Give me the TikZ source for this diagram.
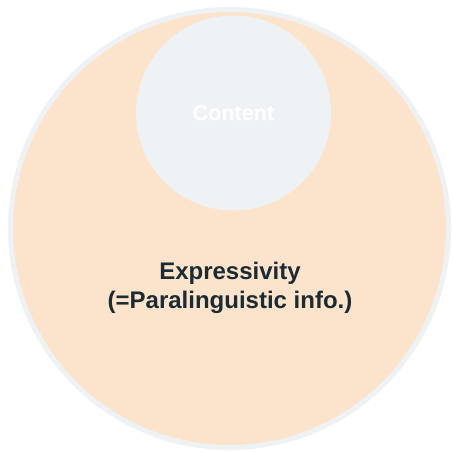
\documentclass[tikz,border=0pt]{standalone}
\usepackage{fontspec}
\setmainfont{Liberation Sans}
\definecolor{peach}{HTML}{FCE4CC}
\definecolor{mist}{HTML}{EEF2F5}
\definecolor{ink}{HTML}{1C2B33}
\begin{document}
\begin{tikzpicture}[x=1pt,y=-1pt,
  outerset/.style={circle,fill=peach,draw=mist,line width=5pt,minimum size=438pt,inner sep=0pt},
  innerset/.style={circle,fill=mist,minimum size=195pt,inner sep=0pt},
  setlabel/.style={font=\bfseries\fontsize{24}{29}\selectfont,align=center,text=ink}]
  \useasboundingbox (0,0) rectangle (452,451);
  \fill[white] (0,0) rectangle (452,451);
  \node[outerset] (expr) at (229.5,228.5) {};
  \node[innerset] (content) at (233.5,113) {};
  \node[font=\bfseries\fontsize{21.5}{26}\selectfont,text=white] (contentlbl) at (content.center) {Content};
  \node[setlabel] (exprlbl) at (230,288) {Expressivity\\(=Paralinguistic info.)};
\end{tikzpicture}
\end{document}
